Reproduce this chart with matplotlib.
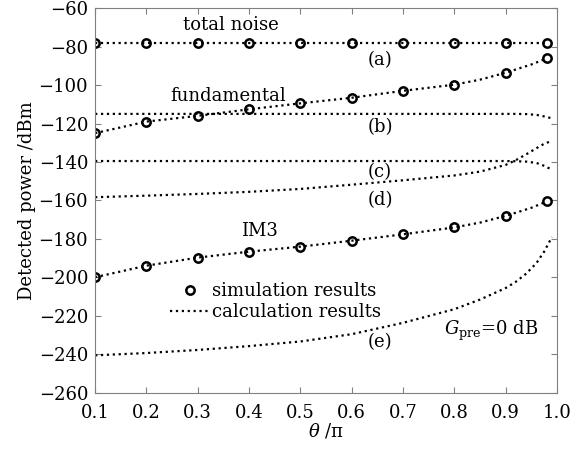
import numpy as np
import matplotlib
matplotlib.use('Agg')
import matplotlib.pyplot as plt

plt.rcParams['font.family'] = ['DejaVu Serif']
plt.rcParams['mathtext.fontset'] = 'dejavuserif'

# simulation points
theta_sim = [0.1, 0.2, 0.3, 0.4, 0.5, 0.6, 0.7, 0.8, 0.9, 0.98]
noise_sim = [-78, -78, -78, -78, -78, -78, -78, -78, -78, -78]
fund_sim = [-125, -119, -116, -112.6, -109.5, -106.6, -103, -99.8, -93.6, -86]
im3_sim = [-199.9, -193.9, -189.7, -186.6, -184, -180.9, -177.6, -174, -168, -160.3]

# calculation curves (fund / IM3 through the simulation points)
theta_fit = [0.1, 0.2, 0.3, 0.4, 0.5, 0.6, 0.7, 0.8, 0.85, 0.9, 0.93, 0.95, 0.97, 0.98]
noise_calc = [-78] * 14
fund_calc = [-125, -119, -116, -112.6, -109.5, -106.6, -103, -99.8, -97.2, -93.6, -91, -89.3, -87.2, -86]
im3_calc = [-199.9, -193.9, -189.7, -186.6, -184, -180.9, -177.6, -174, -171.5, -168, -165.5, -163.8, -161.6, -160.3]

theta_calc = [0.1, 0.2, 0.3, 0.4, 0.5, 0.6, 0.7, 0.8, 0.85, 0.9, 0.92, 0.94, 0.96, 0.975, 0.99]
curve_b = [-115, -115, -115, -115, -115, -115, -115, -115, -115, -115, -115, -115.1, -115.5, -116.3, -117.3]
curve_c = [-139.5, -139.5, -139.5, -139.5, -139.5, -139.5, -139.5, -139.5, -139.5, -139.5, -139.6, -139.8, -140.5, -142, -144]
curve_d = [-158.3, -157.5, -156.6, -155.5, -154, -151.8, -149.5, -147, -145, -141.5, -139, -136, -132.8, -130.5, -129]
curve_e = [-240.5, -239.3, -237.7, -235.7, -233.3, -229.5, -223.6, -216.5, -211.5, -205.5, -202.2, -198, -192.5, -186.5, -179]

fig = plt.figure(figsize=(5.87, 4.5), dpi=100)
ax = fig.add_axes([0.162, 0.127, 0.787, 0.855])

ls = dict(color='k', linestyle=':', lw=1.6)
mk = dict(linestyle='none', marker='o', ms=6, mfc='none', mec='k', mew=1.8)

ax.plot(theta_fit, noise_calc, **ls)
ax.plot(theta_fit, fund_calc, **ls)
ax.plot(theta_calc, curve_b, **ls)
ax.plot(theta_calc, curve_c, **ls)
ax.plot(theta_calc, curve_d, **ls)
ax.plot(theta_fit, im3_calc, **ls)
ax.plot(theta_calc, curve_e, **ls, label='calculation results')
ax.plot(theta_sim, noise_sim, **mk, label='simulation results')
ax.plot(theta_sim, fund_sim, **mk)
ax.plot(theta_sim, im3_sim, **mk)

fs = 13
ax.text(0.365, -69, 'total noise', fontsize=fs, ha='center', va='center')
ax.text(0.655, -87, '(a)', fontsize=fs, ha='center', va='center')
ax.text(0.36, -105.5, 'fundamental', fontsize=fs, ha='center', va='center')
ax.text(0.655, -122, '(b)', fontsize=fs, ha='center', va='center')
ax.text(0.655, -145, '(c)', fontsize=fs, ha='center', va='center')
ax.text(0.655, -160, '(d)', fontsize=fs, ha='center', va='center')
ax.text(0.42, -176, 'IM3', fontsize=fs, ha='center', va='center')
ax.text(0.655, -233.5, '(e)', fontsize=fs, ha='center', va='center')
ax.text(0.78, -228, r'$G_{\rm pre}$=0 dB', fontsize=fs, ha='left', va='center')

h, l = ax.get_legend_handles_labels()
ax.legend(h[::-1], l[::-1], loc='upper left', bbox_to_anchor=(0.135, 0.32),
          frameon=False, fontsize=fs, handlelength=2.2, handletextpad=0.1,
          borderpad=0.2, labelspacing=0.15)

ax.set_xlim(0.1, 1.0)
ax.set_ylim(-260, -60)
ax.set_xticks(np.arange(0.1, 1.01, 0.1))
ax.set_xticklabels(['0.1', '0.2', '0.3', '0.4', '0.5', '0.6', '0.7', '0.8', '0.9', '1.0'])
ax.set_yticks(np.arange(-260, -59, 20))
ax.tick_params(direction='in', top=True, right=True, labelsize=fs, color='gray', length=4)
ax.tick_params(axis='x', pad=8)
ax.tick_params(axis='y', pad=5)
for s in ax.spines.values():
    s.set_color('gray')
ax.set_xlabel(r'$\theta$ /π', fontsize=fs, labelpad=0)
ax.set_ylabel('Detected power /dBm', fontsize=fs, labelpad=2)

fig.savefig('out.png', dpi=100)
